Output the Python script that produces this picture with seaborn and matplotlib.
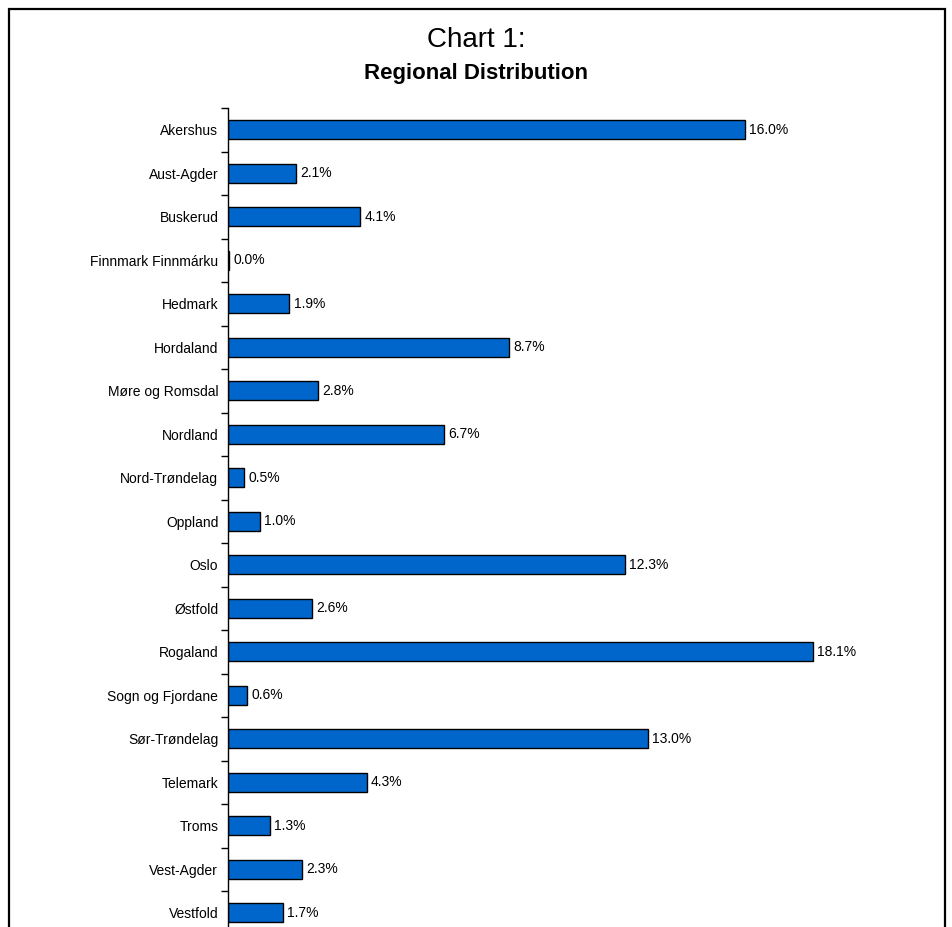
import numpy as np
import pandas as pd
import matplotlib
matplotlib.use("Agg")
import matplotlib.pyplot as plt
from matplotlib.patches import Rectangle
import seaborn as sns

# data (Finnmark is a sliver that rounds to 0.0%)
regions = ['Akershus', 'Aust-Agder', 'Buskerud', 'Finnmark Finnmárku', 'Hedmark',
           'Hordaland', 'Møre og Romsdal', 'Nordland', 'Nord-Trøndelag', 'Oppland',
           'Oslo', 'Østfold', 'Rogaland', 'Sogn og Fjordane', 'Sør-Trøndelag',
           'Telemark', 'Troms', 'Vest-Agder', 'Vestfold']
share = [16.0, 2.1, 4.1, 0.04, 1.9, 8.7, 2.8, 6.7, 0.5, 1.0,
         12.3, 2.6, 18.1, 0.6, 13.0, 4.3, 1.3, 2.3, 1.7]

sns.set_style("white")
plt.rcParams['font.family'] = ['Liberation Sans', 'DejaVu Sans']
plt.rcParams['text.color'] = 'black'
plt.rcParams['ytick.color'] = 'black'

df = pd.DataFrame({'region': regions, 'share': share})

W, H = 952, 927
fig = plt.figure(figsize=(W / 100, H / 100), dpi=100)

# axes placed in pixel terms: left spine at x=228, first row boundary at y=108
row_h = 43.5
ax_top = 108
ax_bottom = ax_top + row_h * len(regions)
ax = fig.add_axes([228 / W, 1 - ax_bottom / H, (928 - 228) / W, (ax_bottom - ax_top) / H])

sns.barplot(data=df, x='share', y='region', orient='h', color='#0066CC',
            width=0.44, edgecolor='black', linewidth=1.0, saturation=1, ax=ax)

for c in ax.containers:
    ax.bar_label(c, labels=[f'{v:.1f}%' for v in share], padding=3,
                 fontsize=10, color='black')

ax.set_xlim(0, 700 / 32.3)
ax.set_ylim(len(regions) - 0.5, -0.5)
ax.set_xlabel('')
ax.set_ylabel('')
ax.set_xticks([])
for s in ['top', 'right', 'bottom']:
    ax.spines[s].set_visible(False)
ax.spines['left'].set_color('black')
ax.spines['left'].set_linewidth(1.0)

ax.set_yticks(np.arange(len(regions)))
ax.set_yticklabels(regions, fontsize=10)
ax.set_yticks(np.arange(len(regions)) - 0.5, minor=True)
ax.tick_params(axis='y', which='major', length=0, pad=7, labelcolor='black')
ax.tick_params(axis='y', which='minor', length=5, width=1, color='black', left=True)

fig.text(0.5, 1 - 47 / H, 'Chart 1:', ha='center', va='baseline', fontsize=20)
fig.text(0.5, 1 - 79 / H, 'Regional Distribution', ha='center', va='baseline',
         fontsize=16, fontweight='bold')

# border around the whole chart
fig.patches.append(Rectangle((9 / W, -0.05), (945 - 9) / W, 1.05 - 9 / H,
                             transform=fig.transFigure, fill=False,
                             edgecolor='black', linewidth=1.6))

plt.savefig('out.png', dpi=100)
